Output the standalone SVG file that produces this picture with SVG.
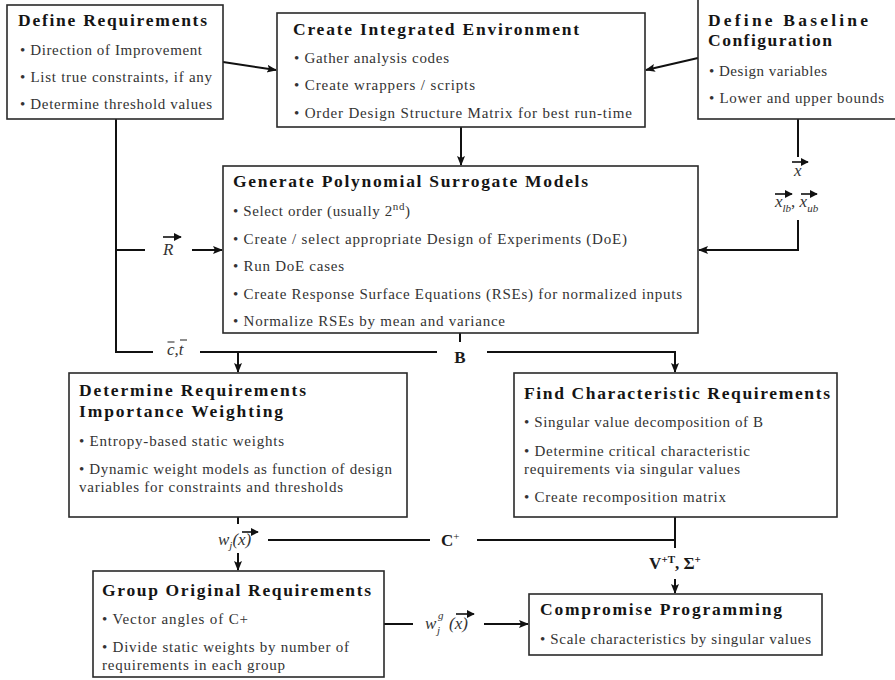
<svg xmlns="http://www.w3.org/2000/svg" width="895" height="680" viewBox="0 0 895 680">
  <style>
    .box { fill: #ffffff; stroke: #2a2a2a; stroke-width: 1.6; }
    text { font-family: "Liberation Serif", "DejaVu Serif", "Noto Serif", "Times New Roman", serif; }
    .ttl { font-weight: bold; font-size: 17.5px; fill: #151515; }
    .bul { font-size: 15px; fill: #333333; }
    .math { font-style: italic; font-size: 17px; fill: #333333; }
    .mbold { font-weight: bold; font-size: 17px; fill: #1a1a1a; }
    .sup { font-size: 11px; }
    .wire { fill: none; stroke: #111111; stroke-width: 2; }
    .vec { fill: none; stroke: #111111; stroke-width: 1.6; }
    .bar { stroke: #333333; stroke-width: 1.1; }
  </style>
  <defs>
    <marker id="head" markerUnits="userSpaceOnUse" markerWidth="10" markerHeight="10" viewBox="0 0 10 10" refX="9" refY="5" orient="auto">
      <path d="M0,1 L10,5 L0,9 L2,5 Z" fill="#111111"/>
    </marker>
    <marker id="vhead" markerUnits="userSpaceOnUse" markerWidth="8" markerHeight="8" viewBox="0 0 10 10" refX="9" refY="5" orient="auto">
      <path d="M0,0 L10,5 L0,10 Z" fill="#111111"/>
    </marker>
  </defs>

  <!-- connectors -->
  <g id="connectors">
    <path class="wire" d="M223,62 L276,70" marker-end="url(#head)"/>
    <path class="wire" d="M698,58 L646,70" marker-end="url(#head)"/>
    <path class="wire" d="M461,127 L461,165" marker-end="url(#head)"/>
    <path class="wire" d="M116,119 L116,352 L153,352"/>
    <path class="wire" d="M116,250 L145,250"/>
    <path class="wire" d="M192,250 L222,250" marker-end="url(#head)"/>
    <path class="wire" d="M200,352 L437,352"/>
    <path class="wire" d="M238,352 L238,372" marker-end="url(#head)"/>
    <path class="wire" d="M460,333 L460,342"/>
    <path class="wire" d="M487,352 L675,352 L675,372" marker-end="url(#head)"/>
    <path class="wire" d="M798,119 L798,157"/>
    <path class="wire" d="M798,220 L798,250 L699,250" marker-end="url(#head)"/>
    <path class="wire" d="M238,517 L238,524"/>
    <path class="wire" d="M238,553 L238,570" marker-end="url(#head)"/>
    <path class="wire" d="M268,540 L430,540"/>
    <path class="wire" d="M477,540 L675,540"/>
    <path class="wire" d="M675,517 L675,548"/>
    <path class="wire" d="M675,579 L675,593" marker-end="url(#head)"/>
    <path class="wire" d="M384,624 L413,624"/>
    <path class="wire" d="M484,624 L528,624" marker-end="url(#head)"/>
  </g>

  <!-- connector labels -->
  <g id="labels">
    <!-- R vector -->
    <text class="math" x="163" y="255">R</text>
    <path class="vec" d="M163,237 L181,237" marker-end="url(#vhead)"/>
    <!-- c bar, t bar -->
    <text class="math" x="167" y="355">c,t</text>
    <line class="bar" x1="167.5" y1="342" x2="174.5" y2="342"/>
    <line class="bar" x1="180" y1="340" x2="187" y2="340"/>
    <!-- B -->
    <text class="mbold" x="460" y="363" text-anchor="middle">B</text>
    <!-- x vector -->
    <text class="math" x="794" y="176">x</text>
    <path class="vec" d="M792,162 L808,162" marker-end="url(#vhead)"/>
    <!-- x_lb, x_ub -->
    <text class="math" x="775" y="207">x<tspan class="sup" dy="5">lb</tspan><tspan dy="-5" font-style="normal">,</tspan> x<tspan class="sup" dy="5">ub</tspan></text>
    <path class="vec" d="M775,194 L792,194" marker-end="url(#vhead)"/>
    <path class="vec" d="M801,194 L817,194" marker-end="url(#vhead)"/>
    <!-- w_j(x) -->
    <text class="math" x="218" y="545">w<tspan class="sup" dy="4">j</tspan><tspan dy="-4">(x)</tspan></text>
    <path class="vec" d="M242,532 L258,532" marker-end="url(#vhead)"/>
    <!-- C+ -->
    <text class="mbold" x="441" y="546">C<tspan class="sup" font-weight="normal" dy="-6">+</tspan></text>
    <!-- V+T, Sigma+ -->
    <text class="mbold" x="675" y="569" text-anchor="middle">V<tspan class="sup" dy="-6">+T</tspan><tspan dy="6">, Σ</tspan><tspan class="sup" dy="-6">+</tspan></text>
    <!-- w_j^g (x) -->
    <text class="math" x="425" y="629">w</text>
    <text class="math sup" x="437" y="634">j</text>
    <text class="math sup" x="438" y="619">g</text>
    <text class="math" x="449" y="629">(x)</text>
    <path class="vec" d="M456,614 L474,614" marker-end="url(#vhead)"/>
  </g>

  <!-- Define Requirements -->
  <g id="define-requirements">
    <rect class="box" x="7" y="5" width="216" height="114"/>
    <text class="ttl" x="18" y="26" textLength="189">Define Requirements</text>
    <text class="bul" x="20" y="55" textLength="182">• Direction of Improvement</text>
    <text class="bul" x="20" y="82" textLength="192">• List true constraints, if any</text>
    <text class="bul" x="20" y="109" textLength="192">• Determine threshold values</text>
  </g>

  <!-- Create Integrated Environment -->
  <g id="integrated-environment">
    <rect class="box" x="277" y="13" width="368" height="114"/>
    <text class="ttl" x="293" y="35" textLength="286">Create Integrated Environment</text>
    <text class="bul" x="294" y="63" textLength="155">• Gather analysis codes</text>
    <text class="bul" x="294" y="90" textLength="181">• Create wrappers / scripts</text>
    <text class="bul" x="294" y="118" textLength="338">• Order Design Structure Matrix for best run-time</text>
  </g>

  <!-- Define Baseline Configuration -->
  <g id="baseline-configuration">
    <rect class="box" x="698" y="-2" width="220" height="121"/>
    <text class="ttl" x="708" y="26" textLength="160">Define Baseline</text>
    <text class="ttl" x="708" y="46" textLength="124">Configuration</text>
    <text class="bul" x="709" y="76" textLength="118">• Design variables</text>
    <text class="bul" x="709" y="103" textLength="175">• Lower and upper bounds</text>
  </g>

  <!-- Generate Polynomial Surrogate Models -->
  <g id="surrogate-models">
    <rect class="box" x="223" y="166" width="475" height="167"/>
    <text class="ttl" x="233" y="187" textLength="355">Generate Polynomial Surrogate Models</text>
    <text class="bul" x="233" y="216" textLength="177">• Select order (usually 2<tspan class="sup" dy="-6">nd</tspan><tspan dy="6">)</tspan></text>
    <text class="bul" x="233" y="244" textLength="394">• Create / select appropriate Design of Experiments (DoE)</text>
    <text class="bul" x="233" y="271" textLength="111">• Run DoE cases</text>
    <text class="bul" x="233" y="299" textLength="449">• Create Response Surface Equations (RSEs) for normalized inputs</text>
    <text class="bul" x="233" y="326" textLength="272">• Normalize RSEs by mean and variance</text>
  </g>

  <!-- Determine Requirements Importance Weighting -->
  <g id="importance-weighting">
    <rect class="box" x="69" y="373" width="338" height="144"/>
    <text class="ttl" x="79" y="396" textLength="227">Determine Requirements</text>
    <text class="ttl" x="79" y="417" textLength="204">Importance Weighting</text>
    <text class="bul" x="79" y="446" textLength="205">• Entropy-based static weights</text>
    <text class="bul" x="79" y="474" textLength="313">• Dynamic weight models as function of design</text>
    <text class="bul" x="79" y="492" textLength="264">variables for constraints and thresholds</text>
  </g>

  <!-- Find Characteristic Requirements -->
  <g id="characteristic-requirements">
    <rect class="box" x="514" y="373" width="323" height="144"/>
    <text class="ttl" x="524" y="399" textLength="306">Find Characteristic Requirements</text>
    <text class="bul" x="524" y="427" textLength="239">• Singular value decomposition of B</text>
    <text class="bul" x="524" y="456" textLength="226">• Determine critical characteristic</text>
    <text class="bul" x="524" y="474" textLength="216">requirements via singular values</text>
    <text class="bul" x="524" y="502" textLength="202">• Create recomposition matrix</text>
  </g>

  <!-- Group Original Requirements -->
  <g id="group-requirements">
    <rect class="box" x="93" y="571" width="291" height="106"/>
    <text class="ttl" x="102" y="596" textLength="269">Group Original Requirements</text>
    <text class="bul" x="102" y="624" textLength="146">• Vector angles of C+</text>
    <text class="bul" x="102" y="652" textLength="247">• Divide static weights by number of</text>
    <text class="bul" x="102" y="670" textLength="183">requirements in each group</text>
  </g>

  <!-- Compromise Programming -->
  <g id="compromise-programming">
    <rect class="box" x="529" y="594" width="293" height="61"/>
    <text class="ttl" x="540" y="615" textLength="242">Compromise Programming</text>
    <text class="bul" x="540" y="644" textLength="271">• Scale characteristics by singular values</text>
  </g>
</svg>
